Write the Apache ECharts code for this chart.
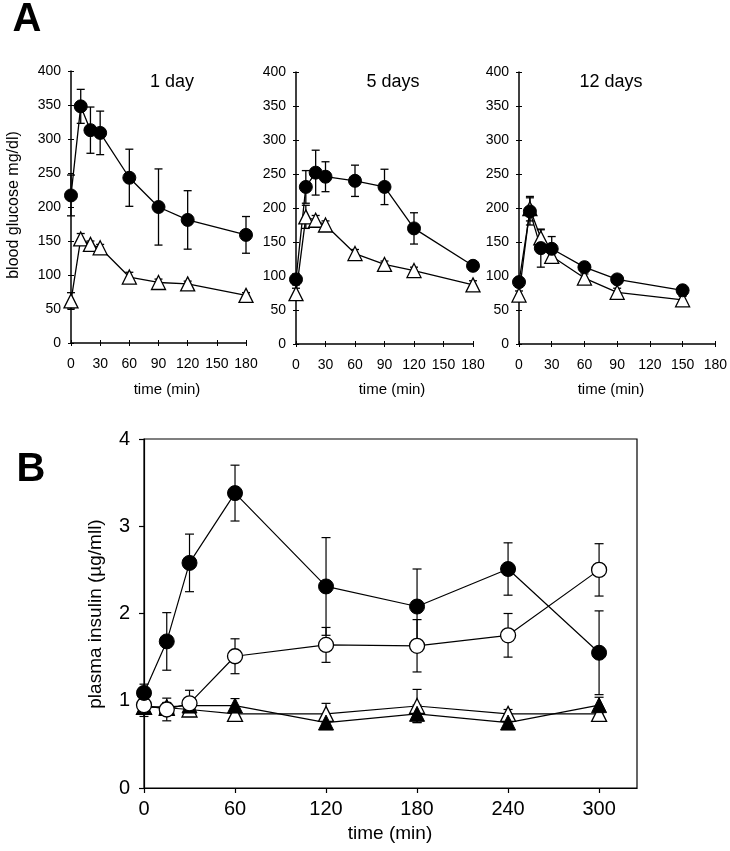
<!DOCTYPE html>
<html>
<head>
<meta charset="utf-8">
<script src="https://cdn.jsdelivr.net/npm/echarts@6/dist/echarts.min.js"></script>
<style>html,body{margin:0;padding:0;background:#fff;}#c{width:730px;height:851px;}</style>
</head>
<body>
<div id="c"></div>
<script>
// ---- Panel A data (blood glucose, mg/dl) ----
const timeA1 = [0, 10, 20, 30, 60, 90, 120, 180];
const day1Filled = [217, 348, 313, 309, 243, 200, 181, 159];
const day1FilledErr = [30, 25, 34, 32, 42, 56, 43, 27];
const day1Open = [62, 153, 145, 140, 97, 89, 87, 70];
const day1OpenErr = [12, 8, 5, 5, 7, 5, 4, 4];

const timeA2 = [0, 10, 20, 30, 60, 90, 120, 180];
const day5Filled = [95, 231, 252, 246, 240, 231, 170, 115];
const day5FilledErr = [8, 24, 33, 22, 23, 26, 23, 5];
const day5Open = [74, 187, 182, 175, 133, 117, 108, 87];
const day5OpenErr = [8, 17, 7, 6, 6, 5, 5, 6];

const timeA3 = [0, 10, 20, 30, 60, 90, 150];
const day12Filled = [91, 195, 141, 140, 113, 95, 79];
const day12FilledErr = [6, 20, 28, 18, 6, 6, 5];
const day12Open = [72, 199, 156, 129, 97, 76, 65];
const day12OpenErr = [6, 18, 12, 8, 6, 6, 5];

const panelTitles = ['1 day', '5 days', '12 days'];

// ---- Panel B data (plasma insulin) ----
const timeB = [0, 15, 30, 60, 120, 180, 240, 300];
const insFilledCircle = [1.09, 1.68, 2.58, 3.38, 2.31, 2.08, 2.51, 1.55];
const insFilledCircleErr = [0.1, 0.33, 0.33, 0.32, 0.56, 0.43, 0.3, 0.48];
const insOpenCircle = [0.95, 0.90, 0.97, 1.51, 1.64, 1.63, 1.75, 2.50];
const insOpenCircleErr = [0.13, 0.13, 0.15, 0.2, 0.2, 0.3, 0.25, 0.3];
const insFilledTri = [0.93, 0.93, 0.945, 0.945, 0.75, 0.85, 0.75, 0.95];
const insFilledTriErr = [0.05, 0.05, 0.05, 0.08, 0.05, 0.1, 0.05, 0.09];
const insOpenTri = [0.93, 0.92, 0.90, 0.85, 0.85, 0.94, 0.85, 0.85];
const insOpenTriErr = [0.05, 0.05, 0.05, 0.05, 0.12, 0.19, 0.05, 0.05];
const ticksB = [0, 60, 120, 180, 240, 300];

const FONT = 'Liberation Sans, Arial, sans-serif';
const chart = echarts.init(document.getElementById('c'), null, {renderer: 'canvas'});

function zip(xs, ys, es) { return xs.map((x, i) => es ? [x, ys[i], es[i]] : [x, ys[i]]); }

function errRender(capW, lw) {
  return function (params, api) {
    const x = api.value(0), y = api.value(1), e = api.value(2);
    const t = api.coord([x, y + e]), b = api.coord([x, y - e]);
    const h = capW / 2;
    const st = {stroke: '#000', lineWidth: lw};
    return {type: 'group', children: [
      {type: 'line', shape: {x1: t[0], y1: t[1], x2: b[0], y2: b[1]}, style: st},
      {type: 'line', shape: {x1: t[0] - h, y1: t[1], x2: t[0] + h, y2: t[1]}, style: st},
      {type: 'line', shape: {x1: b[0] - h, y1: b[1], x2: b[0] + h, y2: b[1]}, style: st}
    ]};
  };
}

const grids = [
  {left: 71, top: 71, width: 175, height: 272},
  {left: 296, top: 72, width: 177, height: 272},
  {left: 519, top: 72, width: 201, height: 272},
  {left: 144, top: 439, width: 493, height: 349, show: true, borderColor: '#000', borderWidth: 1.2, backgroundColor: 'transparent'}
];

const xAxes = [], yAxes = [];
for (let g = 0; g < 3; g++) {
  xAxes.push({gridIndex: g, type: 'value', min: 0, max: 180, interval: 30,
    axisLine: {lineStyle: {color: '#000', width: 1.5}},
    axisTick: {show: true, length: 3, lineStyle: {color: '#000', width: 1}},
    axisLabel: {color: '#000', fontSize: 14, fontFamily: FONT, margin: 14},
    splitLine: {show: false}});
  yAxes.push({gridIndex: g, type: 'value', min: 0, max: 400, interval: 50,
    axisLine: {show: true, lineStyle: {color: '#000', width: 1.5}},
    axisTick: {show: true, length: 3, lineStyle: {color: '#000', width: 1}},
    axisLabel: {color: '#000', fontSize: 14, fontFamily: FONT, margin: 10},
    splitLine: {show: false}});
}
// Panel B axes (index 3)
xAxes.push({gridIndex: 3, type: 'value', min: 0, max: 325,
  axisLine: {lineStyle: {color: '#000', width: 1.2}},
  axisTick: {show: true, length: 5, customValues: ticksB, lineStyle: {color: '#000', width: 1.2}},
  axisLabel: {color: '#000', fontSize: 20, fontFamily: FONT, margin: 11, customValues: ticksB},
  splitLine: {show: false}});
yAxes.push({gridIndex: 3, type: 'value', min: 0, max: 4, interval: 1,
  axisLine: {show: true, lineStyle: {color: '#000', width: 1.2}},
  axisTick: {show: true, length: 5, lineStyle: {color: '#000', width: 1.2}},
  axisLabel: {color: '#000', fontSize: 20, fontFamily: FONT, margin: 14},
  splitLine: {show: false}});
// inner tick duplicates for panel A (cross ticks)
for (let g = 0; g < 3; g++) {
  xAxes.push({gridIndex: g, type: 'value', min: 0, max: 180, interval: 30, position: 'bottom',
    axisLine: {show: false}, axisTick: {show: true, inside: true, length: 3, lineStyle: {color: '#000', width: 1}},
    axisLabel: {show: false}, splitLine: {show: false}});
  yAxes.push({gridIndex: g, type: 'value', min: 0, max: 400, interval: 50, position: 'left',
    axisLine: {show: false}, axisTick: {show: true, inside: true, length: 3, lineStyle: {color: '#000', width: 1}},
    axisLabel: {show: false}, splitLine: {show: false}});
}

const series = [];
function addGroup(ax, xs, ys, es, symbol, filled, size, capW, lw) {
  series.push({type: 'custom', xAxisIndex: ax, yAxisIndex: ax, renderItem: errRender(capW, lw),
    data: zip(xs, ys, es), z: 1, silent: true, clip: false});
  series.push({type: 'line', xAxisIndex: ax, yAxisIndex: ax, data: zip(xs, ys),
    symbol: symbol, symbolSize: size, showSymbol: true,
    lineStyle: {color: '#000', width: lw},
    itemStyle: {color: filled ? '#000' : '#fff', borderColor: '#000', borderWidth: filled ? 1 : 1.3},
    z: 3, animation: false, silent: true});
}

const aSets = [
  [timeA1, day1Filled, day1FilledErr, day1Open, day1OpenErr],
  [timeA2, day5Filled, day5FilledErr, day5Open, day5OpenErr],
  [timeA3, day12Filled, day12FilledErr, day12Open, day12OpenErr]
];
aSets.forEach((s, g) => {
  addGroup(g, s[0], s[3], s[4], 'triangle', false, 14, 8, 1.3);
  addGroup(g, s[0], s[1], s[2], 'circle', true, 13, 8, 1.3);
});
addGroup(3, timeB, insOpenTri, insOpenTriErr, 'triangle', false, 15, 9, 1.2);
addGroup(3, timeB, insFilledTri, insFilledTriErr, 'triangle', true, 15, 9, 1.2);
addGroup(3, timeB, insOpenCircle, insOpenCircleErr, 'circle', false, 15, 9, 1.2);
addGroup(3, timeB, insFilledCircle, insFilledCircleErr, 'circle', true, 15, 9, 1.2);

function txt(x, y, text, font, rot) {
  return {type: 'text', x: x, y: y, rotation: rot || 0, silent: true,
    style: {text: text, font: font, fill: '#000', align: 'center', verticalAlign: 'middle',
      textAlign: 'center', textVerticalAlign: 'middle'}};
}

const graphics = [
  txt(27, 20, 'A', 'bold 40px ' + FONT),
  txt(31, 470, 'B', 'bold 40px ' + FONT),
  txt(172, 82, panelTitles[0], '18px ' + FONT),
  txt(393, 82, panelTitles[1], '18px ' + FONT),
  txt(611, 82, panelTitles[2], '18px ' + FONT),
  txt(167, 390, 'time (min)', '15px ' + FONT),
  txt(392, 390, 'time (min)', '15px ' + FONT),
  txt(611, 390, 'time (min)', '15px ' + FONT),
  txt(14, 205, 'blood glucose mg/dl)', '16px ' + FONT, Math.PI / 2),
  txt(96, 614, 'plasma insulin (µg/mll)', '19px ' + FONT, Math.PI / 2),
  txt(390, 834, 'time (min)', '19px ' + FONT)
];

chart.setOption({
  animation: false,
  backgroundColor: '#fff',
  grid: grids,
  xAxis: xAxes,
  yAxis: yAxes,
  series: series,
  graphic: graphics
});
</script>
</body>
</html>
